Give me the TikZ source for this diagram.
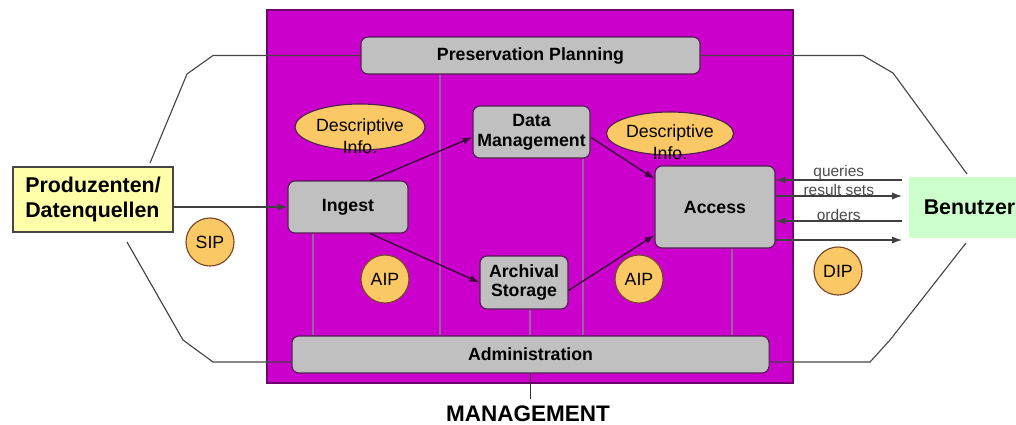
\documentclass[tikz,border=0pt]{standalone}
\usepackage{fontspec}
\setmainfont{Liberation Sans}
\usepackage{tikz}
\usetikzlibrary{shapes.geometric, arrows.meta, positioning}
\definecolor{oaismagenta}{RGB}{204,0,204}
\definecolor{oaisframe}{RGB}{110,0,110}
\definecolor{oaisgrey}{RGB}{192,192,192}
\definecolor{oaisedge}{RGB}{80,30,80}
\definecolor{infoorange}{RGB}{250,200,100}
\definecolor{infoedge}{RGB}{120,70,40}
\definecolor{produceryellow}{RGB}{255,255,170}
\definecolor{consumergreen}{RGB}{204,255,204}
\definecolor{tieviolet}{RGB}{150,100,165}
\definecolor{flowdark}{RGB}{60,10,60}
\definecolor{outlinegrey}{RGB}{70,70,70}

\begin{document}
\begin{tikzpicture}[
    x=0.025cm, y=-0.025cm,
    stage/.style={rectangle, rounded corners=5pt, fill=oaisgrey, draw=oaisedge, line width=0.8pt,
        align=center, inner sep=0pt, font=\fontsize{12.6}{14}\selectfont\bfseries},
    party/.style={rectangle, inner sep=0pt, align=left, font=\fontsize{15.2}{17.6}\selectfont\bfseries},
    packet/.style={circle, fill=infoorange, draw=infoedge, line width=0.8pt, minimum size=1.2cm,
        inner sep=0pt, font=\fontsize{12.6}{14}\selectfont},
    bubble/.style={ellipse, fill=infoorange, draw=oaisedge, line width=0.8pt, inner sep=0pt},
    bubbletext/.style={align=center, inner sep=0pt, font=\fontsize{12.6}{15.5}\selectfont},
    flow/.style={-{Latex[length=7pt,width=5pt]}, draw=flowdark, line width=1pt},
    channel/.style={-{Latex[length=7pt,width=5pt]}, draw=black!75, line width=0.8pt},
    tie/.style={draw=tieviolet, line width=1.4pt},
    hull/.style={draw=outlinegrey, line width=0.8pt},
    tag/.style={font=\fontsize{11}{12}\selectfont, text=black!70, inner sep=0pt, above=0pt}
]

% Page
\useasboundingbox (0,0) rectangle (1016,424);
\fill[white] (0,0) rectangle (1016,424);

% Archive frame
\draw[fill=oaismagenta, draw=oaisframe, line width=0.8pt] (267,10) rectangle (793,383);

% Functional entities
\node[stage, minimum width=8.475cm, minimum height=0.925cm] (plan) at (530.5,55.5) {Preservation Planning};
\node[stage, minimum width=3cm, minimum height=1.3cm] (ingest) at (348,207) {Ingest};
\node[stage, minimum width=2.925cm, minimum height=1.3cm] (datamgmt) at (531.5,132) {Data\\Management};
\node[stage, minimum width=2.2cm, minimum height=1.325cm] (storage) at (524,282.5) {Archival\\Storage};
\node[stage, minimum width=3cm, minimum height=2.05cm] (access) at (715,207) {Access};
\node[stage, minimum width=11.925cm, minimum height=0.925cm] (admin) at (530.5,354.5) {Administration};

% Outside parties
\node[party, fill=produceryellow, draw=outlinegrey, line width=0.8pt, minimum width=4cm,
    minimum height=1.625cm] (producer) at (93,199.5) {Produzenten/\\Datenquellen};
\node[party, fill=consumergreen, minimum width=3.025cm, minimum height=1.525cm] (consumer) at (969.5,207.5) {Benutzer};

% Information packages
\node[packet] (sip) at (210,242) {SIP};
\node[packet] (aipin) at (385,279) {AIP};
\node[packet] (aipout) at (639,279) {AIP};
\node[packet] (dip) at (838,271) {DIP};

% Descriptive info
\node[bubble, minimum width=3.25cm, minimum height=1.15cm] (descin) at (360,127) {};
\node[bubbletext] (descintext) at (360,136) {Descriptive\\Info.};
\node[bubble, minimum width=3.175cm, minimum height=1.075cm] (descout) at (670,133.5) {};
\node[bubbletext] (descouttext) at (670,142) {Descriptive\\Info.};

% Management label
\node[anchor=north, inner sep=0pt, font=\fontsize{16}{18}\selectfont\bfseries] (mgmt) at (528,405) {MANAGEMENT};

% Outline of the environment
\coordinate (lu1) at (213,55.5);
\coordinate (lu2) at (187,74);
\coordinate (lu3) at (150,163);
\coordinate (ll1) at (127,242);
\coordinate (ll2) at (183,340);
\coordinate (ll3) at (213,362);
\coordinate (ru1) at (863,55.5);
\coordinate (ru2) at (893,73);
\coordinate (ru3) at (967,174);
\coordinate (rl1) at (966,243);
\coordinate (rl2) at (890,340);
\coordinate (rl3) at (870,362);
\draw[hull] (plan.west) -- (lu1) -- (lu2) -- (lu3);
\draw[hull] (ll1) -- (ll2) -- (ll3) -- (ll3 -| admin.west);
\draw[hull] (plan.east) -- (ru1) -- (ru2) -- (ru3);
\draw[hull] (rl1) -- (rl2) -- (rl3) -- (rl3 -| admin.east);
\draw[hull, draw=black!80, shorten >=4pt] (admin.south) -- (admin.south |- mgmt.north);

% Ties to administration
\coordinate (ti) at (313,0);
\coordinate (tp) at (440,0);
\coordinate (ts) at (530,0);
\coordinate (td) at (583,0);
\coordinate (ta) at (732,0);
\draw[tie] (ingest.south -| ti) -- (admin.north -| ti);
\draw[tie] (plan.south -| tp) -- (admin.north -| tp);
\draw[tie] (storage.south -| ts) -- (admin.north -| ts);
\draw[tie] (datamgmt.south -| td) -- (admin.north -| td);
\draw[tie] (access.south -| ta) -- (admin.north -| ta);

% Data flow
\draw[channel] (producer.east |- ingest.west) -- (ingest.west);
\draw[flow] (ingest.50) -- (datamgmt.185);
\draw[flow] (ingest.-50) -- (storage.west);
\draw[flow] (datamgmt.-5) -- (access.155);
\draw[flow] (storage.-10) -- (access.205);

% Access and users
\coordinate (uq) at (902,180);
\coordinate (ur) at (902,196);
\coordinate (uo) at (902,221);
\coordinate (ud) at (902,240);
\draw[channel] (uq) -- (uq -| access.east) node[tag, midway] {queries};
\draw[channel] (ur -| access.east) -- (ur) node[tag, midway] {result sets};
\draw[channel] (uo) -- (uo -| access.east) node[tag, midway] {orders};
\draw[channel] (ud -| access.east) -- (ud);

\end{tikzpicture}
\end{document}
